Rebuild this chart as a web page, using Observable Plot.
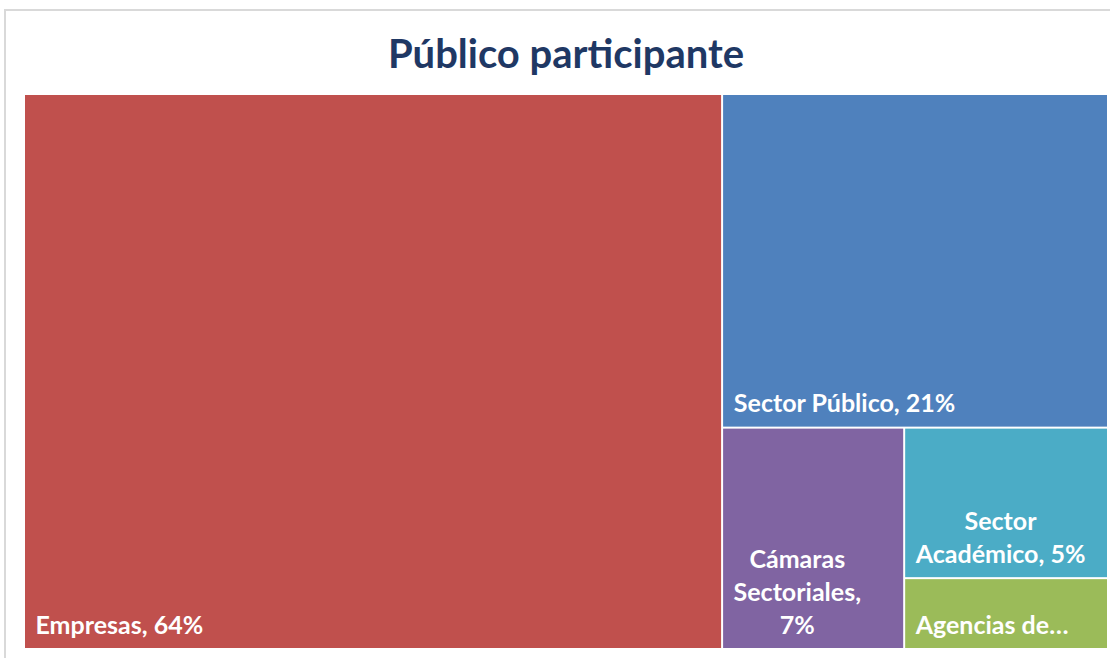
<!DOCTYPE html>
<html>
<head>
<meta charset="utf-8">
<script src="https://cdn.jsdelivr.net/npm/d3@7"></script>
<script src="https://cdn.jsdelivr.net/npm/@observablehq/plot@0.6"></script>
<style>
  html, body { margin: 0; padding: 0; background: #fff; overflow: hidden; }
  #frame { position: absolute; left: 4px; top: 9px; width: 1200px; height: 800px; border: 2px solid #d9d9d9; box-sizing: border-box; }
  #wrap { position: absolute; left: 0; top: 0; width: 1110px; }
  #title { position: relative; height: 93px; box-sizing: border-box; padding-top: 33px; margin-left: 25px; width: 1082px; text-align: center;
           font-family: Lato, sans-serif; font-weight: bold; font-size: 40px; line-height: 1; color: #1F3864; }
  svg { display: block; }
</style>
</head>
<body>
<div id="frame"></div>
<div id="wrap">
  <div id="title">Público participante</div>
  <div id="chart"></div>
</div>
<script>
// Data
const categories = ["Empresas", "Sector Público", "Cámaras Sectoriales", "Sector Académico", "Agencias de…"];
const values = [64.4, 21.4, 6.7, 5.1, 2.4];
const labels = ["Empresas, 64%", "Sector Público, 21%", "Cámaras\nSectoriales,\n7%", "Sector\nAcadémico, 5%", "Agencias de…"];
const colors = ["#C0504D", "#4F81BD", "#8064A2", "#4BACC6", "#9BBB59"];

const W = 1082, H = 553;
const fontSize = 25, fontFamily = "Lato", pad = 10;

const root = d3.hierarchy({children: categories.map((c, i) => ({name: c, value: values[i], label: labels[i]}))})
  .sum(d => d.value || 0);
d3.treemap().tile(d3.treemapBinary).size([W, H]).paddingInner(2)(root);
const leaves = root.leaves();

const ctx = document.createElement("canvas").getContext("2d");
ctx.font = `bold ${fontSize}px ${fontFamily}`;
const blockWidth = s => d3.max(s.split("\n"), l => ctx.measureText(l).width);

const chart = Plot.plot({
  width: 1110,
  height: 565,
  marginLeft: 25,
  marginRight: 3,
  marginTop: 2,
  marginBottom: 10,
  x: {domain: [0, W], axis: null},
  y: {domain: [0, H], reverse: true, axis: null},
  color: {domain: categories, range: colors},
  marks: [
    Plot.rect(leaves, {x1: "x0", x2: "x1", y1: "y0", y2: "y1", fill: d => d.data.name}),
    Plot.text(leaves, {
      x: d => d.x0 + pad + blockWidth(d.data.label) / 2,
      y: "y1",
      text: d => d.data.label,
      textAnchor: "middle",
      lineAnchor: "bottom",
      lineHeight: 1.32,
      dy: -15,
      fill: "white",
      fontSize,
      fontFamily,
      fontWeight: "bold"
    })
  ]
});
document.getElementById("chart").appendChild(chart);
</script>
</body>
</html>
